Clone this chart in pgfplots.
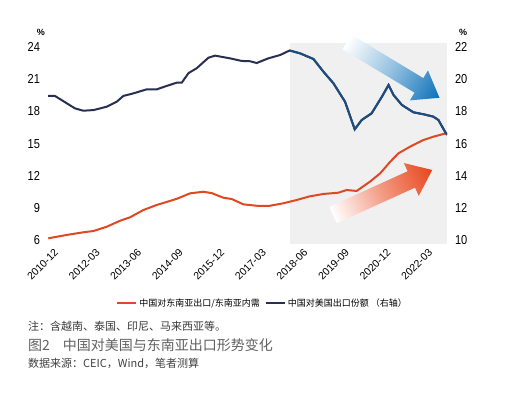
\documentclass[border=0pt]{standalone}
\usepackage{fontspec}
\setmainfont{Liberation Sans}
\newfontfamily\cjk{Noto Sans CJK SC}
\usepackage{pgfplots}
\usepackage{pgfplotstable}
\pgfplotsset{compat=1.18}
\definecolor{navy}{RGB}{40,48,82}
\definecolor{lineblue}{RGB}{28,76,128}
\definecolor{linered}{RGB}{222,72,34}
\definecolor{shadegray}{RGB}{240,240,240}
\definecolor{arrowblue}{RGB}{10,112,185}
\definecolor{arrowred}{RGB}{232,70,28}

\pgfplotstableread{
m v
0.1 6.16
6.7 6.47
12.7 6.72
16.4 6.84
21.2 7.24
26.0 7.8
29.6 8.12
34.4 8.8
39.2 9.27
42.9 9.56
46.5 9.85
51.3 10.36
56.1 10.51
59.1 10.38
63.3 9.95
66.3 9.83
70.5 9.33
75.3 9.2
80.1 9.2
84.9 9.43
89.8 9.74
94.3 10.07
99.4 10.3
104.8 10.42
107.8 10.67
111.4 10.58
116.2 11.45
119.9 12.23
123.5 13.31
126.5 14.1
130.7 14.72
135.5 15.34
139.1 15.65
142.7 15.9
144 16.0
}\redtable

\pgfplotstableread{
m v
0 18.97
2.5 18.97
6.8 18.51
9.7 18.2
12.7 18.05
16.4 18.09
21.2 18.3
24.8 18.61
27.2 18.97
30.8 19.13
35.6 19.38
39.2 19.38
42.8 19.59
46.5 19.8
48.3 19.8
50.7 20.39
53.7 20.7
57.9 21.35
60.3 21.48
65.7 21.31
69.9 21.15
72.9 21.13
75.3 21.02
79.5 21.31
83.8 21.52
87.2 21.8
91.0 21.62
95.8 21.27
99.4 20.48
103.0 19.76
107.2 18.61
110.7 16.89
113.2 17.47
116.8 17.89
120.5 18.92
122.9 19.65
124.7 19.03
127.7 18.41
131.9 17.95
135.5 17.83
139.1 17.68
140.9 17.47
143.3 16.74
144 16.55
}\bluetable

\begin{document}
\begin{tikzpicture}[x=1bp,y=1bp]
\pgfplotsset{
  base/.style={
    scale only axis, width=399bp, height=201.3bp,
    at={(48bp,153.7bp)}, anchor=south west,
    xmin=0, xmax=144,
    axis line style={draw=none}, tick style={draw=none},
    /pgf/number format/assume math mode=true,
  }
}
\begin{axis}[base,
  ymin=5.6, ymax=24.4,
  axis x line*=bottom, axis y line*=left,
  ytick={6,9,...,24},
  yticklabel style={font=\fontsize{13bp}{13bp}\selectfont, xscale=0.85, xshift=-6bp},
  xtick={0,15,...,135},
  xticklabels={2010-12,2012-03,2013-06,2014-09,2015-12,2017-03,2018-06,2019-09,2020-12,2022-03},
  xticklabel style={rotate=45, anchor=north east, font=\fontsize{10.5bp}{10.5bp}\selectfont, inner sep=0.5bp, yshift=-6bp, xshift=2bp},
]
\fill[shadegray] (axis cs:87.2,5.6) rectangle (axis cs:144,24.4);
\addplot[linered, line width=2bp] table[x=m,y=v] {\redtable};
\end{axis}
\begin{axis}[base,
  ymin=9.7333, ymax=22.2667,
  axis y line*=right, axis x line=none,
  ytick={10,12,...,22},
  yticklabel style={font=\fontsize{13bp}{13bp}\selectfont, xscale=0.85, xshift=6bp},
  legend style={draw=none, fill=none, at={(axis description cs:0.5376,-0.2916)}, anchor=center,
    legend columns=2, font=\cjk\fontsize{9bp}{10bp}\selectfont,
    /tikz/every even column/.append style={column sep=3bp}},
  legend image code/.code={\draw[#1] (0bp,0bp) -- (19bp,0bp);},
]
\addlegendimage{linered, line width=2.2bp}
\addlegendentry{中国对东南亚出口/东南亚内需}
\addplot[navy, line width=2bp] table[x=m,y=v] {\bluetable};
\addlegendentry{中国对美国出口份额 （右轴）}
\addplot[lineblue, line width=2bp, forget plot, restrict x to domain=87:144] table[x=m,y=v] {\bluetable};
\end{axis}

\begin{scope}[transform canvas={shift={(347bp,356bp)}, rotate=-31.1}]
  \shade[left color=white, right color=arrowblue, middle color=arrowblue!45]
    (0bp,-8.5bp) -- (84bp,-8.5bp) -- (84bp,-17.5bp) -- (108bp,0bp) -- (84bp,17.5bp) -- (84bp,8.5bp) -- (0bp,8.5bp) -- cycle;
\end{scope}
\begin{scope}[transform canvas={shift={(333bp,183bp)}, rotate=24.4}]
  \shade[left color=white, right color=arrowred, middle color=arrowred!55]
    (0bp,-9bp) -- (86bp,-9bp) -- (86bp,-18bp) -- (109bp,0bp) -- (86bp,18bp) -- (86bp,9bp) -- (0bp,9bp) -- cycle;
\end{scope}

\node[font=\bfseries\fontsize{9bp}{9bp}\selectfont] at (41bp,366bp) {\%};
\node[font=\bfseries\fontsize{9bp}{9bp}\selectfont] at (463bp,366bp) {\%};

\node[anchor=west, inner sep=0pt, text=black!78, font=\cjk\fontsize{11bp}{12bp}\selectfont] at (28bp,72bp) {注：含越南、泰国、印尼、马来西亚等。};
\node[anchor=west, inner sep=0pt, text=black!62, font=\cjk\fontsize{14bp}{16bp}\selectfont] at (28bp,53bp) {图2\hspace{13bp}中国对美国与东南亚出口形势变化};
\node[anchor=west, inner sep=0pt, text=black!75, font=\cjk\fontsize{11bp}{12bp}\selectfont] at (28bp,35bp) {数据来源：CEIC，Wind，笔者测算};

\pgfresetboundingbox
\path[use as bounding box] (0bp,0bp) rectangle (510bp,398bp);
\end{tikzpicture}
\end{document}
